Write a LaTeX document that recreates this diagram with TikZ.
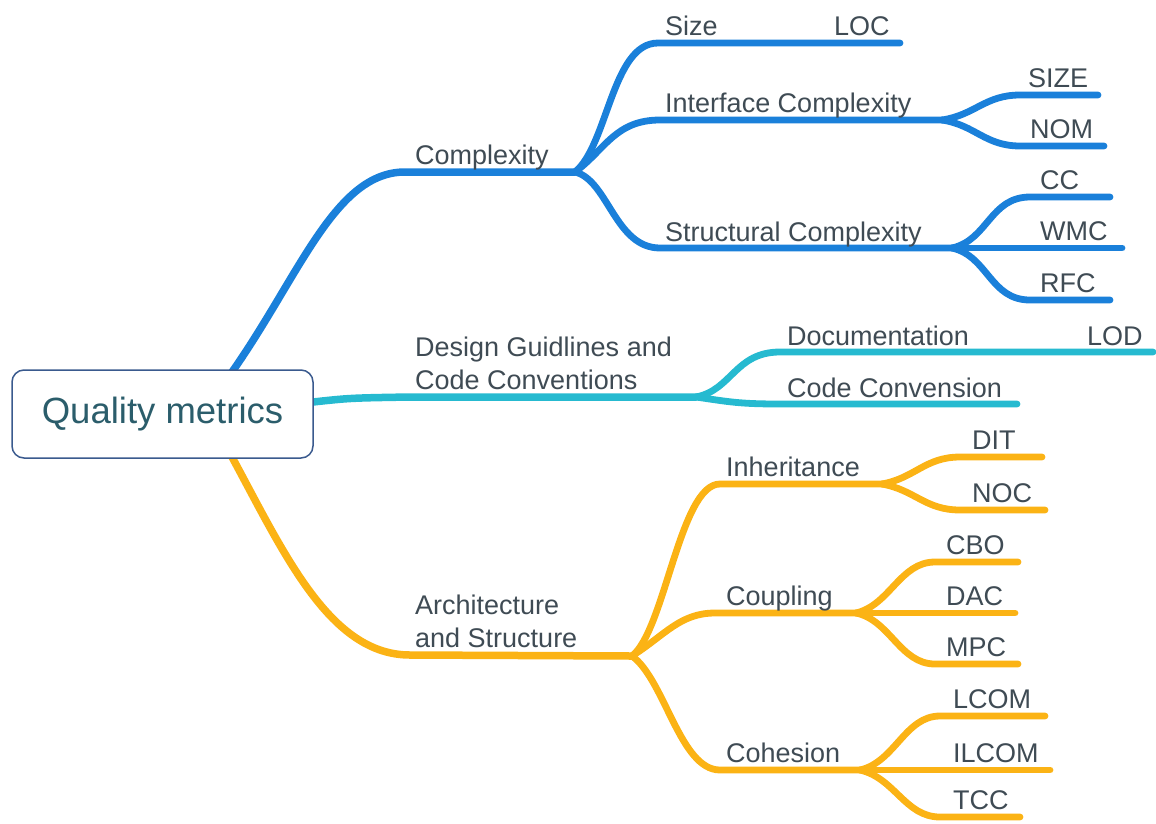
\documentclass[tikz,border=0pt]{standalone}
\usepackage{fontspec}
\setmainfont{Liberation Sans}
\definecolor{cblue}{HTML}{1A80DA}
\definecolor{cteal}{HTML}{26BAD0}
\definecolor{corange}{HTML}{FBB315}
\definecolor{ctext}{HTML}{3F4B54}
\definecolor{croottext}{HTML}{2B5D6B}
\definecolor{crootline}{HTML}{3A5A8E}
\begin{document}
\begin{tikzpicture}[x=1pt,y=-1pt,
  lbl/.style={anchor=base west,inner sep=0pt,text=ctext,font=\fontsize{27}{32}\selectfont},
  trunk/.style={line width=7.5pt,line cap=round,line join=round},
  twig/.style={line width=6.8pt,line cap=round,line join=round},
  rootbox/.style={draw=crootline,line width=1.5pt,rounded corners=12pt,fill=white,
    minimum width=301pt,minimum height=88pt,text=croottext,font=\fontsize{36.5}{42}\selectfont}]
\useasboundingbox (0,0) rectangle (1156,823);

% ---- branch points and line ends
\coordinate (rt) at (232,372);
\coordinate (rr) at (313,402);
\coordinate (rb) at (232,457);
% complexity
\coordinate (cx) at (575,172);
\coordinate (sz) at (900,43);
\coordinate (ic) at (942,120);
\coordinate (icS) at (1098,95);
\coordinate (icN) at (1104,146);
\coordinate (sc) at (952,248);
\coordinate (scC) at (1110,197);
\coordinate (scW) at (1122,248);
\coordinate (scR) at (1110,300);
% guidelines
\coordinate (dg) at (696,397);
\coordinate (doc) at (1153,352);
\coordinate (ccv) at (1017,404);
% architecture
\coordinate (ar) at (632,656);
\coordinate (inh) at (882,484);
\coordinate (inD) at (1042,457);
\coordinate (inN) at (1045,510);
\coordinate (cpl) at (856,613);
\coordinate (cpC) at (1018,562);
\coordinate (cpD) at (1015,613);
\coordinate (cpM) at (1018,664);
\coordinate (coh) at (860,770);
\coordinate (chL) at (1045,716);
\coordinate (chI) at (1050,770);
\coordinate (chT) at (1020,817);

% ---- blue: complexity
\draw[cblue,trunk] (rt) .. controls (300,275) and (335,172) .. (405,172) -- (cx);
\draw[cblue,twig] (cx) .. controls (608,145) and (612,43) .. (658,43) -- (sz);
\draw[cblue,twig] (cx) .. controls (605,150) and (615,120) .. (660,120) -- (ic);
\draw[cblue,twig] (cx) .. controls (608,180) and (615,248) .. (660,248) -- (sc);
\draw[cblue,twig] (ic) .. controls (975,115) and (985,95) .. (1020,95) -- (icS);
\draw[cblue,twig] (ic) .. controls (975,125) and (985,146) .. (1020,146) -- (icN);
\draw[cblue,twig] (sc) .. controls (988,240) and (990,197) .. (1030,197) -- (scC);
\draw[cblue,twig] (sc) -- (scW);
\draw[cblue,twig] (sc) .. controls (988,256) and (990,300) .. (1030,300) -- (scR);

% ---- teal: design guidelines
\draw[cteal,trunk] (rr) .. controls (350,398) .. (410,397) -- (dg);
\draw[cteal,twig] (dg) .. controls (732,390) and (735,352) .. (780,352) -- (doc);
\draw[cteal,twig] (dg) .. controls (730,402) and (740,404) .. (780,404) -- (ccv);

% ---- orange: architecture
\draw[corange,trunk] (rb) .. controls (285,555) and (330,655) .. (410,655) -- (ar);
\draw[corange,twig] (ar) .. controls (665,630) and (680,484) .. (720,484) -- (inh);
\draw[corange,twig] (ar) .. controls (665,635) and (680,613) .. (715,613) -- (cpl);
\draw[corange,twig] (ar) .. controls (665,680) and (680,770) .. (720,770) -- (coh);
\draw[corange,twig] (inh) .. controls (915,478) and (925,457) .. (960,457) -- (inD);
\draw[corange,twig] (inh) .. controls (915,490) and (925,510) .. (960,510) -- (inN);
\draw[corange,twig] (cpl) .. controls (890,605) and (900,562) .. (935,562) -- (cpC);
\draw[corange,twig] (cpl) -- (cpD);
\draw[corange,twig] (cpl) .. controls (890,620) and (900,664) .. (935,664) -- (cpM);
\draw[corange,twig] (coh) .. controls (895,762) and (905,716) .. (940,716) -- (chL);
\draw[corange,twig] (coh) -- (chI);
\draw[corange,twig] (coh) .. controls (895,778) and (905,817) .. (940,817) -- (chT);

% ---- root
\node[rootbox] (root) at (162.5,414) {Quality metrics};

% ---- labels
\node[lbl] (tComplexity) at (415,164) {Complexity};
\node[lbl] (tSize) at (665,35) {Size};
\node[lbl] (tLOC) at (834,35) {LOC};
\node[lbl] (tInterface) at (665,112) {Interface Complexity};
\node[lbl] (tSIZE) at (1028,87) {SIZE};
\node[lbl] (tNOM) at (1030,138) {NOM};
\node[lbl] (tStructural) at (665,241) {Structural Complexity};
\node[lbl] (tCC) at (1040,189) {CC};
\node[lbl] (tWMC) at (1040,240) {WMC};
\node[lbl] (tRFC) at (1040,292) {RFC};

\node[lbl] (tDesignA) at (415,356) {Design Guidlines and};
\node[lbl] (tDesignB) at (415,389) {Code Conventions};
\node[lbl] (tDoc) at (787,345) {Documentation};
\node[lbl] (tLOD) at (1087,345) {LOD};
\node[lbl] (tConv) at (787,397) {Code Convension};

\node[lbl] (tArchA) at (415,614) {Architecture};
\node[lbl] (tArchB) at (415,647) {and Structure};
\node[lbl] (tInh) at (726,476) {Inheritance};
\node[lbl] (tDIT) at (972,449) {DIT};
\node[lbl] (tNOC) at (972,502) {NOC};
\node[lbl] (tCpl) at (726,605) {Coupling};
\node[lbl] (tCBO) at (946,554) {CBO};
\node[lbl] (tDAC) at (946,605) {DAC};
\node[lbl] (tMPC) at (946,656) {MPC};
\node[lbl] (tCoh) at (726,762) {Cohesion};
\node[lbl] (tLCOM) at (953,708) {LCOM};
\node[lbl] (tILCOM) at (953,762) {ILCOM};
\node[lbl] (tTCC) at (953,809) {TCC};
\end{tikzpicture}
\end{document}
